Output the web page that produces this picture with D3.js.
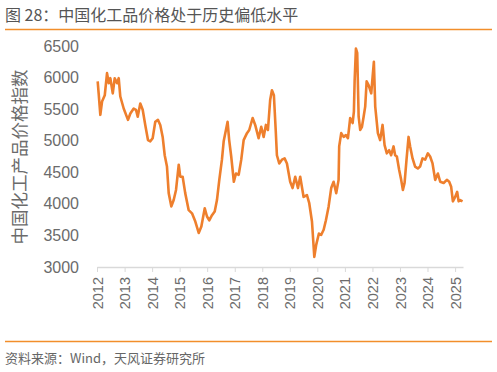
<!DOCTYPE html>
<html>
<head>
<meta charset="utf-8">
<script src="https://cdn.jsdelivr.net/npm/d3@7.9.0/dist/d3.min.js"></script>
<style>
  html, body { margin: 0; padding: 0; background: #fff; }
  svg { display: block; font-family: "Noto Sans CJK SC", "Noto Sans", sans-serif; }
</style>
</head>
<body>
<div id="chart"></div>
<script>
// CCPI readings
const dates = [
  '2012-01-10', '2012-01-23', '2012-02-14', '2012-03-08', '2012-04-13', '2012-05-13',
  '2012-06-05', '2012-06-26', '2012-07-28', '2012-08-23', '2012-09-23', '2012-10-15',
  '2012-11-05', '2012-12-20', '2013-02-15', '2013-03-18', '2013-05-02', '2013-06-01',
  '2013-06-24', '2013-07-28', '2013-08-29', '2013-10-02', '2013-11-07', '2013-12-08',
  '2014-01-08', '2014-02-12', '2014-03-19', '2014-04-19', '2014-05-21', '2014-06-17',
  '2014-07-17', '2014-08-09', '2014-09-13', '2014-10-14', '2014-11-14', '2014-12-20',
  '2015-01-09', '2015-02-10', '2015-03-16', '2015-05-01', '2015-06-14', '2015-07-28',
  '2015-09-11', '2015-10-16', '2015-11-30', '2015-12-30', '2016-01-29', '2016-03-05',
  '2016-04-10', '2016-05-10', '2016-06-10', '2016-07-15', '2016-08-07', '2016-09-06',
  '2016-09-28', '2016-10-19', '2016-11-15', '2016-12-20', '2017-01-17', '2017-02-22',
  '2017-03-28', '2017-04-29', '2017-06-12', '2017-07-12', '2017-08-26', '2017-09-29',
  '2017-11-13', '2017-12-18', '2018-01-19', '2018-02-18', '2018-03-17', '2018-04-16',
  '2018-05-09', '2018-06-04', '2018-06-28', '2018-07-14', '2018-08-14', '2018-09-19',
  '2018-10-24', '2018-11-24', '2019-01-06', '2019-02-07', '2019-03-14', '2019-04-19',
  '2019-05-19', '2019-07-03', '2019-08-16', '2019-09-16', '2019-10-22', '2019-11-22',
  '2019-12-17', '2020-01-22', '2020-02-22', '2020-03-25', '2020-04-24', '2020-05-30',
  '2020-07-03', '2020-08-04', '2020-09-08', '2020-10-09', '2020-10-17', '2020-11-13',
  '2020-12-15', '2021-01-14', '2021-02-10', '2021-03-12', '2021-04-13', '2021-04-30',
  '2021-05-10', '2021-05-27', '2021-06-13', '2021-07-02', '2021-07-23', '2021-08-15',
  '2021-09-06', '2021-09-27', '2021-10-16', '2021-11-11', '2021-12-16', '2022-01-03',
  '2022-01-20', '2022-02-07', '2022-03-14', '2022-04-13', '2022-05-15', '2022-06-11',
  '2022-07-11', '2022-08-11', '2022-09-06', '2022-10-08', '2022-10-29', '2022-11-21',
  '2022-12-21', '2023-01-17', '2023-02-09', '2023-03-03', '2023-03-29', '2023-04-25',
  '2023-05-16', '2023-06-17', '2023-07-21', '2023-08-26', '2023-09-25', '2023-10-27',
  '2023-12-01', '2024-01-06', '2024-02-05', '2024-03-08', '2024-04-12', '2024-05-18',
  '2024-06-18', '2024-08-02', '2024-09-14', '2024-10-15', '2024-11-10', '2024-12-03',
  '2025-01-02', '2025-01-29', '2025-02-17', '2025-03-10', '2025-04-10',
];

const values = [
  5940, 5750, 5410, 5620, 5720, 6070,
  5910, 5990, 5750, 5990, 5910, 5990,
  5700, 5510, 5330, 5430, 5510, 5490,
  5380, 5590, 5490, 5250, 5010, 4990,
  5040, 5300, 5330, 5250, 5060, 4770,
  4590, 4170, 3960, 4060, 4220, 4620,
  4430, 4430, 4170, 3900, 3850, 3720,
  3540, 3640, 3930, 3800, 3740, 3820,
  3880, 4060, 4380, 4700, 4990, 5170,
  5300, 5010, 4750, 4350, 4480, 4460,
  4700, 5010, 5120, 5170, 5360, 5250,
  5040, 5220, 5060, 5250, 5170, 5650,
  5800, 5720, 5170, 4770, 4640, 4700,
  4720, 4640, 4350, 4250, 4430, 4250,
  4430, 4110, 4140, 4010, 3720, 3160,
  3350, 3530, 3510, 3590, 3740, 3960,
  4250, 4350, 4170, 4380, 4910, 5120,
  5060, 5090, 5040, 5360, 5280, 5460,
  5960, 6460, 6390, 5380, 5170, 5220,
  5380, 5540, 5940, 5880, 5750, 6010,
  6250, 5540, 5120, 5010, 5250, 4930,
  4800, 4850, 4770, 4910, 4770, 4750,
  4540, 4380, 4220, 4330, 4700, 5060,
  4910, 4720, 4590, 4560, 4590, 4720,
  4700, 4800, 4750, 4640, 4380, 4480,
  4350, 4330, 4380, 4350, 4270, 4040,
  4110, 4190, 4040, 4060, 4040,
];

const yTicks = [3000, 3500, 4000, 4500, 5000, 5500, 6000, 6500];
const yearTicks = d3.range(2012, 2026);

const titleText = '图 28：中国化工品价格处于历史偏低水平';
const yTitle = '中国化工产品价格指数';
const sourceText = '资料来源：Wind，天风证券研究所';

const width = 497;
const height = 372;
const orange = '#F28E2B';

const parse = d3.timeParse('%Y-%m-%d');
const series = dates.map((d, i) => ({ date: parse(d), value: values[i] }));

const svg = d3
  .select('#chart')
  .append('svg')
  .attr('width', width)
  .attr('height', height);

// header and footer
svg
  .append('text')
  .attr('x', 5)
  .attr('y', 21)
  .attr('font-size', 16)
  .attr('fill', '#555')
  .text(titleText);

svg
  .append('line')
  .attr('x1', 5)
  .attr('x2', 492)
  .attr('y1', 29.5)
  .attr('y2', 29.5)
  .attr('stroke', orange)
  .attr('stroke-width', 1.5);

svg
  .append('line')
  .attr('x1', 5)
  .attr('x2', 492)
  .attr('y1', 341.5)
  .attr('y2', 341.5)
  .attr('stroke', orange)
  .attr('stroke-width', 1.5);

svg
  .append('text')
  .attr('x', 5)
  .attr('y', 363)
  .attr('font-size', 13)
  .attr('fill', '#666')
  .text(sourceText);

// scales
const x = d3
  .scaleTime()
  .domain([new Date(2012, 0, 1), new Date(2025, 3, 16)])
  .range([97, 463]);

const y = d3.scaleLinear().domain([3000, 6500]).range([267, 46]);

// y axis (labels only)
const yAxis = svg
  .append('g')
  .attr('transform', 'translate(97,0)')
  .call(
    d3
      .axisLeft(y)
      .tickValues(yTicks)
      .tickFormat(d3.format('d'))
      .tickSize(0)
      .tickPadding(18),
  );

yAxis.select('.domain').remove();
yAxis
  .selectAll('text')
  .attr('font-size', 16)
  .attr('fill', '#6b6b6b')
  .attr('font-family', '"Liberation Sans", sans-serif');

svg
  .append('text')
  .attr('transform', 'translate(26,157) rotate(-90)')
  .attr('text-anchor', 'middle')
  .attr('font-size', 17.5)
  .attr('fill', '#6b6b6b')
  .text(yTitle);

// x axis
const xAxis = svg
  .append('g')
  .attr('transform', 'translate(0,267)')
  .call(
    d3
      .axisBottom(x)
      .tickValues(yearTicks.map((yr) => new Date(yr, 0, 1)))
      .tickFormat(d3.timeFormat('%Y'))
      .tickSizeInner(5)
      .tickSizeOuter(0),
  );

xAxis.select('.domain').attr('stroke', '#d9d9d9').attr('stroke-width', 1.5);
xAxis.selectAll('.tick line').attr('stroke', '#d9d9d9').attr('stroke-width', 1);
xAxis
  .selectAll('text')
  .attr('font-size', 14.5)
  .attr('fill', '#6b6b6b')
  .attr('font-family', '"Liberation Sans", sans-serif')
  .attr('text-anchor', 'end')
  .attr('transform', 'rotate(-90)')
  .attr('x', -10)
  .attr('y', 0)
  .attr('dy', '0.35em');

// the index line
const line = d3
  .line()
  .x((d) => x(d.date))
  .y((d) => y(d.value));

svg
  .append('path')
  .datum(series)
  .attr('fill', 'none')
  .attr('stroke', '#EE7F2D')
  .attr('stroke-width', 2.6)
  .attr('stroke-linejoin', 'round')
  .attr('d', line);
</script>
</body>
</html>
